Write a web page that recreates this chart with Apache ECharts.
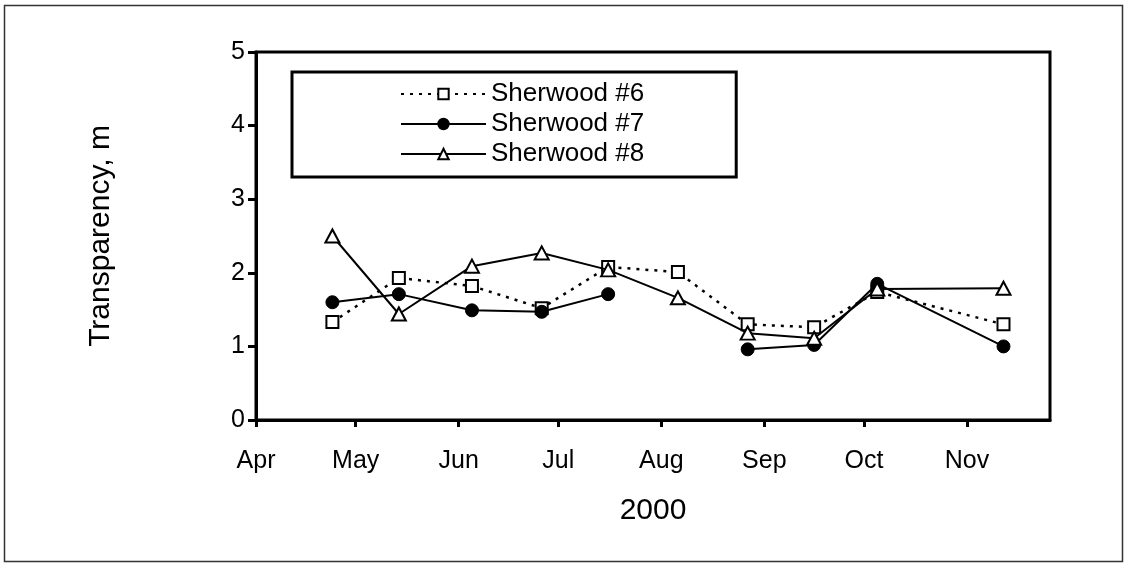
<!DOCTYPE html>
<html>
<head>
<meta charset="utf-8">
<script src="https://cdn.jsdelivr.net/npm/echarts@6/dist/echarts.min.js"></script>
<style>
html,body{margin:0;padding:0;background:#fff;}
#chart{width:1131px;height:569px;}
</style>
</head>
<body>
<div id="chart"></div>
<script>
// ---- data ----
const sampleDates = ['2000-04-24','2000-05-14','2000-06-05','2000-06-26','2000-07-16','2000-08-06','2000-08-27','2000-09-16','2000-10-05','2000-11-12'];
const sherwood6 = [1.33, 1.93, 1.82, 1.52, 2.08, 2.01, 1.30, 1.26, 1.74, 1.30];
const sherwood7 = [1.60, 1.71, 1.49, 1.47, 1.71, null, 0.96, 1.02, 1.85, 1.00];
const sherwood8 = [2.50, 1.44, 2.09, 2.27, 2.04, 1.66, 1.18, 1.11, 1.78, 1.79];
const seriesNames = ['Sherwood #6', 'Sherwood #7', 'Sherwood #8'];
const monthTicks = ['2000-04-01','2000-05-01','2000-06-01','2000-07-01','2000-08-01','2000-09-01','2000-10-01','2000-11-01'];
const monthLabels = ['Apr','May','Jun','Jul','Aug','Sep','Oct','Nov'];
const xMin = '2000-04-01';
const xMax = '2000-11-26';
const yTicks = [0, 1, 2, 3, 4, 5];
const xTitle = '2000';
const yTitle = 'Transparency, m';

function toTime(s){ const p = s.split('-').map(Number); return Date.UTC(p[0], p[1]-1, p[2]); }
const tickTimes = monthTicks.map(toTime);
function pairs(vals){ return sampleDates.map((d,i)=>[toTime(d), vals[i] == null ? '-' : vals[i]]); }

const FONT = '"Liberation Sans", Arial, sans-serif';
const chart = echarts.init(document.getElementById('chart'), null, {renderer:'canvas'});

chart.setOption({
  animation:false,
  backgroundColor:'#fff',
  textStyle:{fontFamily:FONT, color:'#000'},
  graphic:[{
    type:'rect', shape:{x:4.5, y:5.5, width:1118, height:556},
    style:{fill:'none', stroke:'#333', lineWidth:1.5}, silent:true, z:-10
  }],
  grid:{left:256, top:52, right:81, bottom:149, show:true, borderColor:'#000', borderWidth:3, backgroundColor:'transparent', containLabel:false},
  legend:{
    orient:'vertical', left:292, top:72,
    padding:[9, 92, 10, 108],
    borderColor:'#000', borderWidth:3, backgroundColor:'#fff',
    itemWidth:85, itemHeight:13, itemGap:4,
    textStyle:{fontFamily:FONT, fontSize:26, color:'#000'},
    data:seriesNames
  },
  xAxis:{
    type:'value', min:toTime(xMin), max:toTime(xMax),
    name:xTitle, nameLocation:'middle', nameGap:76,
    nameTextStyle:{fontFamily:FONT, fontSize:30, color:'#000'},
    axisLine:{show:true, onZero:false, lineStyle:{color:'#000', width:3}},
    axisTick:{show:true, length:7, lineStyle:{color:'#000', width:3}, customValues:tickTimes},
    axisLabel:{fontFamily:FONT, fontSize:25, color:'#000', margin:29, customValues:tickTimes,
      formatter:function(v){ const i = tickTimes.indexOf(v); return i >= 0 ? monthLabels[i] : ''; }},
    splitLine:{show:false}
  },
  yAxis:{
    type:'value', min:yTicks[0], max:yTicks[yTicks.length-1], interval:1,
    name:yTitle, nameLocation:'middle', nameGap:140, nameRotate:90,
    nameTextStyle:{fontFamily:FONT, fontSize:30, color:'#000'},
    axisLine:{show:true, lineStyle:{color:'#000', width:3}},
    axisTick:{show:true, length:8, lineStyle:{color:'#000', width:3}},
    axisLabel:{fontFamily:FONT, fontSize:25, color:'#000', margin:11},
    splitLine:{show:false}
  },
  series:[
    {name:seriesNames[0], type:'line', data:pairs(sherwood6),
      symbol:'rect', symbolSize:12,
      lineStyle:{color:'#000', width:2.5, type:[3,6]},
      itemStyle:{color:'#fff', borderColor:'#000', borderWidth:2}, z:3},
    {name:seriesNames[1], type:'line', data:pairs(sherwood7), connectNulls:false,
      symbol:'circle', symbolSize:13,
      lineStyle:{color:'#000', width:2},
      itemStyle:{color:'#000', borderColor:'#000', borderWidth:1}, z:4},
    {name:seriesNames[2], type:'line', data:pairs(sherwood8),
      symbol:'triangle', symbolSize:[14,13],
      lineStyle:{color:'#000', width:2},
      itemStyle:{color:'#fff', borderColor:'#000', borderWidth:2}, z:5}
  ]
});
</script>
</body>
</html>
